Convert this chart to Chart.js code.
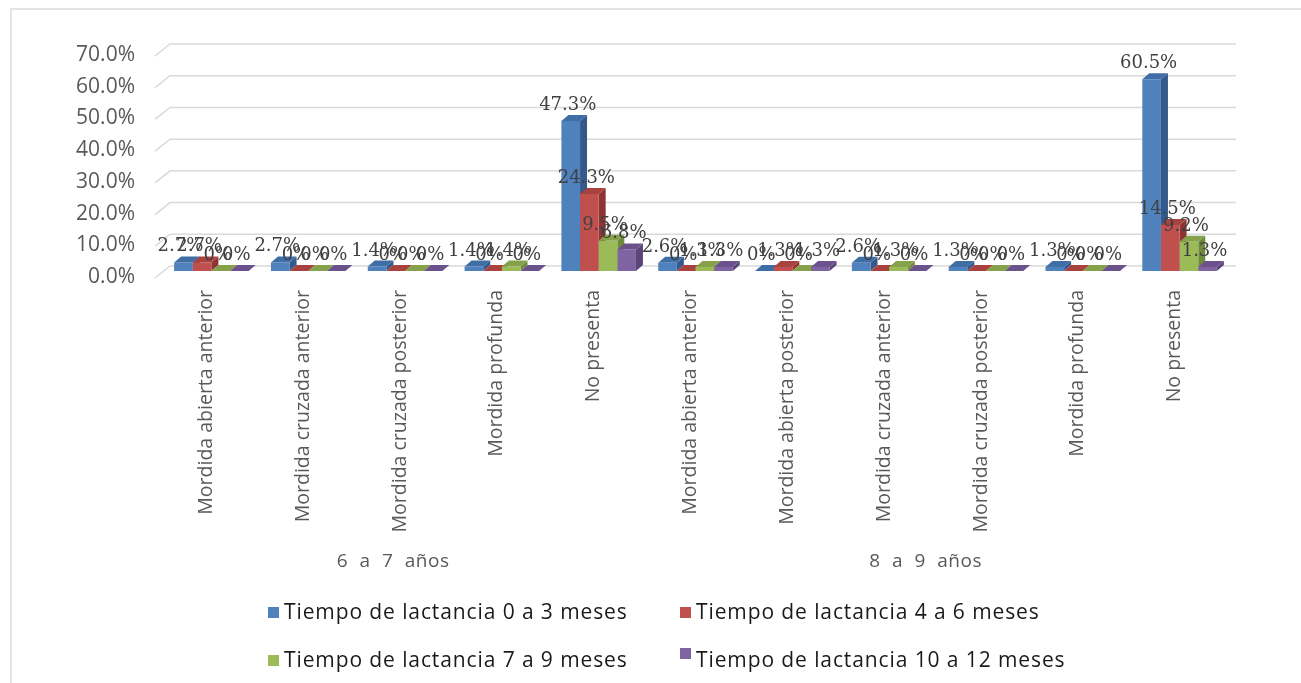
<!DOCTYPE html>
<html lang="es">
<head>
<meta charset="utf-8">
<title>Maloclusiones según tiempo de lactancia</title>
<script src="https://cdn.jsdelivr.net/npm/chart.js@4.4.1/dist/chart.umd.min.js"></script>
<style>
  html, body { margin: 0; padding: 0; background: #ffffff; }
  #wrap { position: relative; width: 1301px; height: 683px; }
  #frame { position: absolute; left: 10px; top: 8px; right: -4px; bottom: -4px;
           border-top: 2px solid #e3e3e3; border-left: 2px solid #e3e3e3; pointer-events: none; }
  canvas { position: absolute; left: 0; top: 0; }
</style>
</head>
<body>
<div id="wrap">
  <canvas id="chart" width="1301" height="683"></canvas>
  <div id="frame"></div>
</div>
<script>
// Categories (two age groups)
const categories = [
  'Mordida abierta anterior', 'Mordida cruzada anterior', 'Mordida cruzada posterior',
  'Mordida profunda', 'No presenta',
  'Mordida abierta anterior', 'Mordida abierta posterior', 'Mordida cruzada anterior',
  'Mordida cruzada posterior', 'Mordida profunda', 'No presenta'
];
const ageGroups = ['6 a 7 años', '8 a 9 años'];
const ageGroupSpans = [[0, 4], [5, 10]];

const seriesLabels = [
  'Tiempo de lactancia 0 a 3 meses',
  'Tiempo de lactancia 4 a 6 meses',
  'Tiempo de lactancia 7 a 9 meses',
  'Tiempo de lactancia 10 a 12 meses'
];

// Percentages per series
const lact0a3   = [2.7, 2.7, 1.4, 1.4, 47.3, 2.6, 0,   2.6, 1.3, 1.3, 60.5];
const lact4a6   = [2.7, 0,   0,   0,   24.3, 0,   1.3, 0,   0,   0,   14.5];
const lact7a9   = [0,   0,   0,   1.4, 9.5,  1.3, 0,   1.3, 0,   0,   9.2];
const lact10a12 = [0,   0,   0,   0,   6.8,  1.3, 1.3, 0,   0,   0,   1.3];

const yTicks = [0, 10, 20, 30, 40, 50, 60, 70];

const frontColors = ['#4f81bd', '#c0504d', '#9bbb59', '#8064a2'];
const sideColors  = ['#35598a', '#8e3533', '#6f8a3a', '#5a4478'];
const topColors   = ['#3f6da5', '#a8423f', '#85a24a', '#6c528d'];

const DEPTH_X = 7, DEPTH_Y = 6;

function fmtPct(v) { return v === 0 ? '0%' : v.toFixed(1) + '%'; }

// 3D gridlines plus the side and top faces of each column
const depthPlugin = {
  id: 'depth',
  beforeDatasetsDraw(chart) {
    const ctx = chart.ctx;
    const y = chart.scales.y;
    const area = chart.chartArea;
    ctx.save();
    ctx.strokeStyle = '#d9d9d9';
    ctx.lineWidth = 1.5;
    yTicks.forEach(v => {
      const py = y.getPixelForValue(v);
      ctx.beginPath();
      ctx.moveTo(area.left - 8, py + 7);
      ctx.lineTo(area.left + 7, py - 5);
      ctx.lineTo(area.right + 8, py - 5);
      ctx.stroke();
    });
    chart.data.datasets.forEach((ds, di) => {
      const meta = chart.getDatasetMeta(di);
      meta.data.forEach(bar => {
        const p = bar.getProps(['x', 'y', 'base', 'width'], true);
        const l = p.x - p.width / 2, r = p.x + p.width / 2;
        // right side
        ctx.fillStyle = sideColors[di];
        ctx.beginPath();
        ctx.moveTo(r, p.y);
        ctx.lineTo(r + DEPTH_X, p.y - DEPTH_Y);
        ctx.lineTo(r + DEPTH_X, p.base - DEPTH_Y);
        ctx.lineTo(r, p.base);
        ctx.closePath();
        ctx.fill();
        // top
        ctx.fillStyle = topColors[di];
        ctx.beginPath();
        ctx.moveTo(l, p.y);
        ctx.lineTo(l + DEPTH_X, p.y - DEPTH_Y);
        ctx.lineTo(r + DEPTH_X, p.y - DEPTH_Y);
        ctx.lineTo(r, p.y);
        ctx.closePath();
        ctx.fill();
      });
    });
    ctx.restore();
  },
  afterDatasetsDraw(chart) {
    // value labels
    const ctx = chart.ctx;
    ctx.save();
    ctx.font = '18px "DejaVu Serif", "Liberation Serif", serif';
    ctx.fillStyle = '#404040';
    ctx.textAlign = 'center';
    ctx.textBaseline = 'alphabetic';
    chart.data.datasets.forEach((ds, di) => {
      const meta = chart.getDatasetMeta(di);
      meta.data.forEach((bar, i) => {
        const p = bar.getProps(['x', 'y'], true);
        ctx.fillText(fmtPct(ds.data[i]), p.x - 3, p.y - DEPTH_Y - 5);
      });
    });
    ctx.restore();
  },
  afterDraw(chart) {
    const ctx = chart.ctx;
    const x = chart.scales.x;
    ctx.save();
    // age group captions
    ctx.font = '19px "Open Sans", sans-serif';
    ctx.fillStyle = '#595959';
    ctx.textAlign = 'center';
    ctx.textBaseline = 'middle';
    ctx.letterSpacing = '0.5px';
    ctx.wordSpacing = '6px';
    ageGroups.forEach((g, k) => {
      const [a, b] = ageGroupSpans[k];
      const cx = (x.getPixelForValue(a) + x.getPixelForValue(b)) / 2 - 12;
      ctx.fillText(g, cx, 562);
    });
    // legend, two columns
    ctx.wordSpacing = '0px';
    ctx.letterSpacing = '0.9px';
    ctx.font = '21px "Open Sans", sans-serif';
    ctx.textAlign = 'left';
    const cols = [268, 680], rows = [613, 661];
    chart.data.datasets.forEach((ds, di) => {
      const cx = cols[di % 2], cy = rows[Math.floor(di / 2)];
      ctx.fillStyle = ds.backgroundColor;
      const sy = di === 3 ? cy - 13 : cy - 6;
      ctx.fillRect(cx, sy, 11, 11);
      ctx.fillStyle = '#1a1a1a';
      ctx.fillText(ds.label, cx + 16, cy);
    });
    ctx.restore();
  }
};

const datasets = [lact0a3, lact4a6, lact7a9, lact10a12].map((d, i) => ({
  label: seriesLabels[i],
  data: d,
  backgroundColor: frontColors[i],
  borderWidth: 0,
  categoryPercentage: 0.77,
  barPercentage: 1.0
}));

new Chart(document.getElementById('chart'), {
  type: 'bar',
  data: { labels: categories, datasets },
  plugins: [depthPlugin],
  options: {
    responsive: false,
    animation: false,
    layout: { padding: { top: 49, right: 73, bottom: 0, left: 0 } },
    plugins: { legend: { display: false }, tooltip: { enabled: false } },
    scales: {
      x: {
        grid: { display: false, drawTicks: false },
        border: { display: false },
        ticks: {
          autoSkip: false, minRotation: 90, maxRotation: 90,
          padding: 19, labelOffset: -5,
          color: '#595959',
          font: { family: '"Open Sans", sans-serif', size: 19.5 }
        },
        afterFit(s) { s.height = 412; }
      },
      y: {
        min: 0, max: 70,
        grid: { display: false, drawTicks: false },
        border: { display: false },
        ticks: {
          stepSize: 10, padding: 28, labelOffset: 6,
          color: '#595959',
          font: { family: '"Open Sans", sans-serif', size: 21 },
          callback: v => v.toFixed(1) + '%'
        },
        afterFit(s) { s.width = 163; }
      }
    }
  }
});
</script>
</body>
</html>
